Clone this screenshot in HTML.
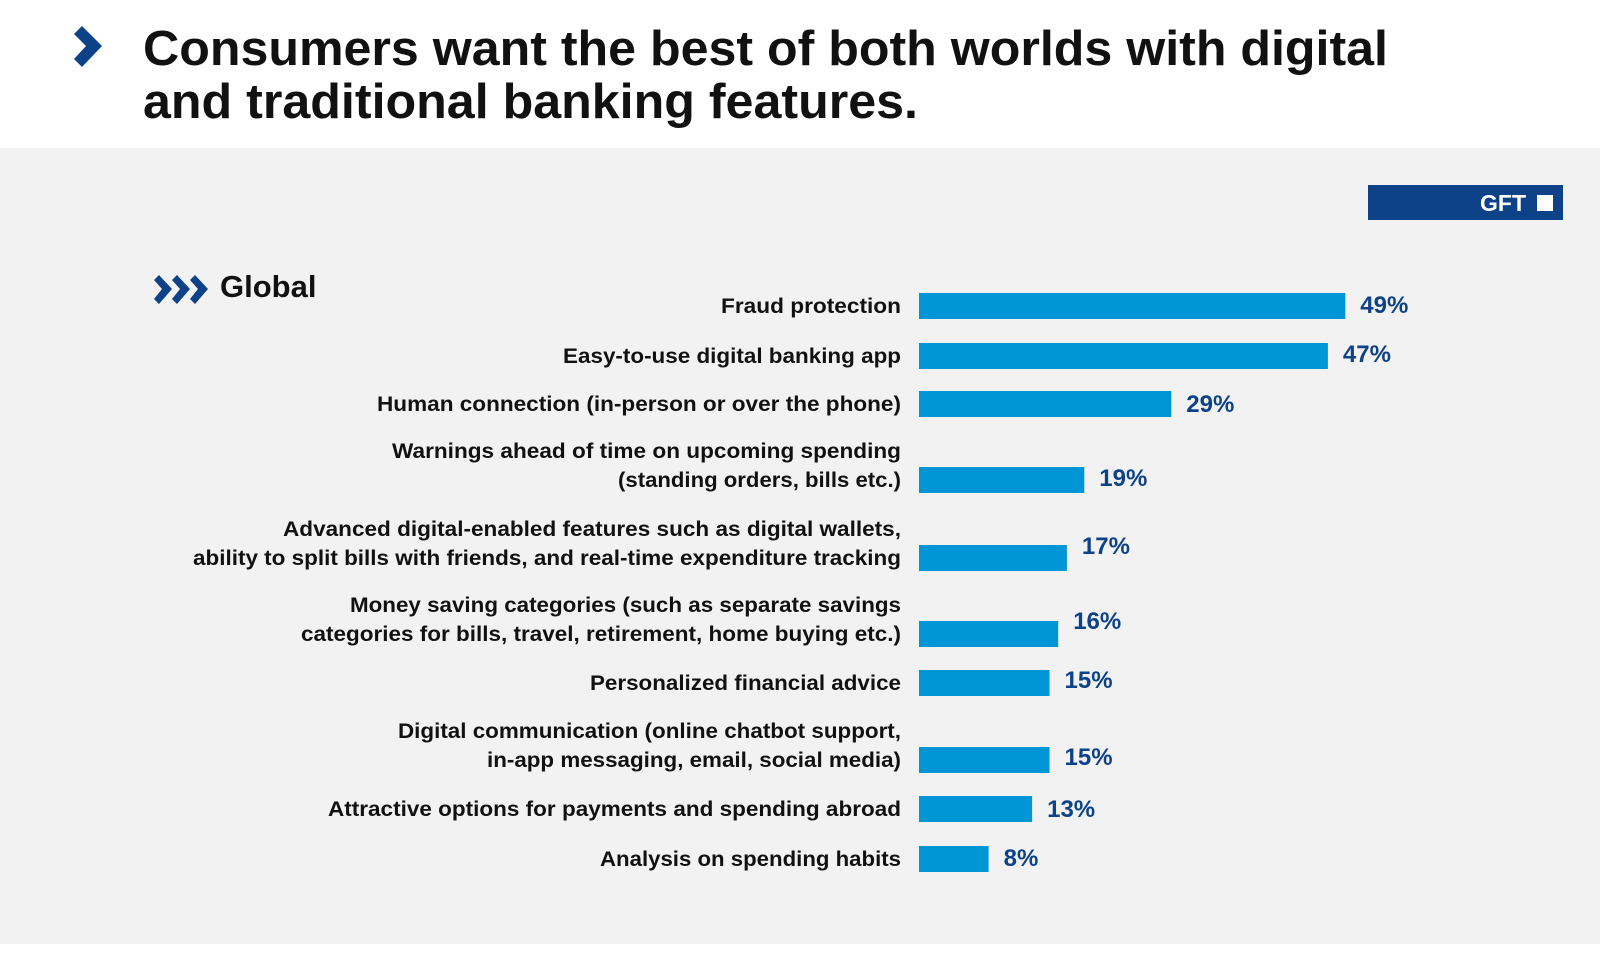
<!DOCTYPE html>
<html><head><meta charset="utf-8"><style>
html,body{margin:0;padding:0;width:1600px;height:960px;overflow:hidden;background:#fff;font-family:"Liberation Sans",sans-serif}
</style></head><body>
<svg id="chart" width="1600" height="960" xmlns="http://www.w3.org/2000/svg" font-family="Liberation Sans, sans-serif">
<rect x="0" y="0" width="1600" height="148" fill="#ffffff"/>
<rect x="0" y="148" width="1600" height="796" fill="#f2f2f2"/>
<polygon points="74,34 82,26 102,46 82,67 74,59 86,46" fill="#0d4289"/>
<text x="143" y="65" font-size="49" font-weight="bold" fill="#111" textLength="1245" lengthAdjust="spacingAndGlyphs">Consumers want the best of both worlds with digital</text>
<text x="143" y="118" font-size="49" font-weight="bold" fill="#111" textLength="775" lengthAdjust="spacingAndGlyphs">and traditional banking features.</text>
<g>
<rect x="1368" y="185" width="195" height="35" fill="#0d4289"/>
<text x="1526" y="211" font-size="23" font-weight="bold" fill="#fff" text-anchor="end">GFT</text>
<rect x="1537" y="195" width="16" height="16" fill="#fff"/>
</g>
<g fill="#0d4289">
<polygon points="154,280 159,275 172,289 159,304 154,299 162,289"/>
<polygon points="172,280 177,275 190,289 177,304 172,299 180,289"/>
<polygon points="190,280 195,275 208,289 195,304 190,299 198,289"/>
</g>
<text x="220" y="297" font-size="31" font-weight="bold" fill="#111">Global</text>
<g id="bars"></g>
</svg>
<script>
const categories = [
 ["Fraud protection"],
 ["Easy-to-use digital banking app"],
 ["Human connection (in-person or over the phone)"],
 ["Warnings ahead of time on upcoming spending","(standing orders, bills etc.)"],
 ["Advanced digital-enabled features such as digital wallets,","ability to split bills with friends, and real-time expenditure tracking"],
 ["Money saving categories (such as separate savings","categories for bills, travel, retirement, home buying etc.)"],
 ["Personalized financial advice"],
 ["Digital communication (online chatbot support,","in-app messaging, email, social media)"],
 ["Attractive options for payments and spending abroad"],
 ["Analysis on spending habits"]
];
const values = [49,47,29,19,17,16,15,15,13,8];
const valueLabels = ["49%","47%","29%","19%","17%","16%","15%","15%","13%","8%"];
// layout (not data)
const rowTops = [293,343,391,467,545,621,670,747,796,846];
const valueDy = [-2,-3,-1,-3,-13,-14,-4,-4,-1,-2];
const lineWidths = [[180],[338],[524],[509,283],[618,708],[551,600],[311],[503,414],[573],[301]];
const x0 = 919, pxPerPct = 8.7, barH = 26;
const xScale = v => v * pxPerPct;
const NS = "http://www.w3.org/2000/svg";
const g = document.getElementById("bars");
values.forEach((v,i) => {
  const top = rowTops[i], cy = top + barH/2;
  const r = document.createElementNS(NS,"rect");
  
  
  r.setAttribute("x", x0); r.setAttribute("y", top);
  r.setAttribute("width", xScale(v)); r.setAttribute("height", barH);
  r.setAttribute("fill", "#0096d6");
  g.appendChild(r);
  const t = document.createElementNS(NS,"text");
  
  
  t.setAttribute("x", x0 + xScale(v) + 15); t.setAttribute("y", cy + 9 + valueDy[i]);
  t.setAttribute("font-size","24"); t.setAttribute("font-weight","bold"); t.setAttribute("fill","#0d4289");
  t.textContent = valueLabels[i];
  g.appendChild(t);
  const lines = categories[i];
  lines.forEach((ln,j) => {
    const l = document.createElementNS(NS,"text");
    
    
    l.setAttribute("x", 901);
    l.setAttribute("y", cy + 7 - (lines.length-1-j)*29);
    l.setAttribute("text-anchor","end");
    l.setAttribute("font-size","21"); l.setAttribute("font-weight","bold"); l.setAttribute("fill","#111");
    l.setAttribute("textLength", lineWidths[i][j]); l.setAttribute("lengthAdjust","spacingAndGlyphs");
    l.textContent = ln;
    g.appendChild(l);
  });
});
</script>
</body></html>
